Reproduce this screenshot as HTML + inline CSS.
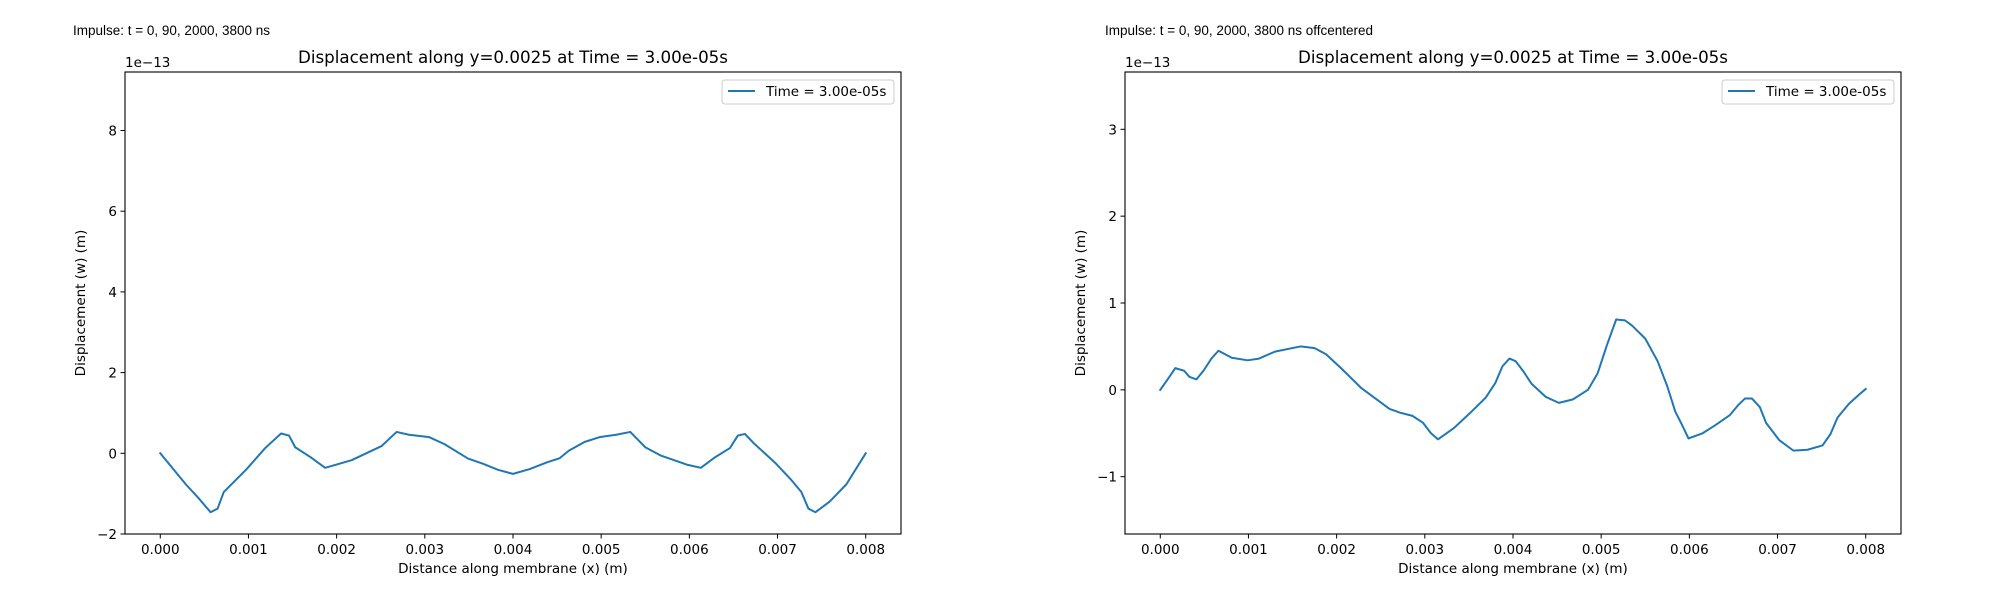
<!DOCTYPE html>
<html><head><meta charset="utf-8"><style>
html,body{margin:0;padding:0;background:#fff;width:2000px;height:600px;overflow:hidden}
svg{display:block}
text{font-family:"DejaVu Sans","Liberation Sans",sans-serif;fill:#000}
</style></head><body>
<svg id="fig" width="2000" height="600" xmlns="http://www.w3.org/2000/svg"></svg>
<script>
const xTicks = [0,0.001,0.002,0.003,0.004,0.005,0.006,0.007,0.008];
const xTickLabels = ["0.000","0.001","0.002","0.003","0.004","0.005","0.006","0.007","0.008"];
const leftX = [0,.00029,.00043,.00057,.00065,.00072,.00098,.00119,.00137,.00146,.00153,.0017,.00187,.00217,.00251,.00268,.00282,.00305,.00322,.00349,.00365,.00383,.004,.00419,.00439,.00453,.00463,.00481,.00498,.00517,.00533,.0055,.00568,.00597,.00613,.00629,.00646,.00655,.00663,.00673,.00698,.00716,.00727,.00735,.00743,.00759,.00778,.008];
const leftY = [0,-0.77,-1.10,-1.46,-1.37,-0.96,-0.39,0.13,0.49,0.44,0.15,-0.09,-0.36,-0.17,0.18,0.53,0.46,0.40,0.23,-0.13,-0.25,-0.41,-0.51,-0.39,-0.22,-0.12,0.06,0.28,0.40,0.46,0.53,0.15,-0.06,-0.28,-0.36,-0.10,0.13,0.44,0.48,0.25,-0.25,-0.67,-0.96,-1.37,-1.46,-1.20,-0.77,0];
const leftYTicks = [-2,0,2,4,6,8];
const rightX = [0,.00009,.00017,.00027,.00033,.00041,.00049,.00058,.00066,.00081,.00099,.00112,.0013,.00159,.00175,.00188,.00206,.00228,.0026,.00271,.00286,.00298,.00307,.00315,.00333,.00351,.00369,.0038,.00388,.00396,.00403,.00412,.00421,.00437,.00452,.00468,.00485,.00496,.00506,.00517,.00527,.00535,.0055,.00564,.00575,.00584,.00592,.00599,.00615,.00629,.00646,.00655,.00663,.00671,.0068,.00687,.00702,.00718,.00734,.00751,.0076,.00768,.00781,.00792,.008];
const rightY = [0,0.13,0.25,0.22,0.15,0.12,0.22,0.36,0.45,0.37,0.34,0.36,0.44,0.50,0.48,0.41,0.24,0.02,-0.22,-0.26,-0.30,-0.38,-0.50,-0.57,-0.44,-0.27,-0.09,0.08,0.27,0.36,0.33,0.21,0.07,-0.08,-0.15,-0.11,0.00,0.19,0.50,0.81,0.80,0.74,0.59,0.33,0.04,-0.25,-0.41,-0.56,-0.50,-0.41,-0.29,-0.18,-0.10,-0.10,-0.20,-0.38,-0.58,-0.70,-0.69,-0.64,-0.51,-0.32,-0.16,-0.06,0.01];
const rightYTicks = [-1,0,1,2,3];

const NS="http://www.w3.org/2000/svg";
const fig=document.getElementById('fig');
function mk(tag,attrs,parent,txt){const e=document.createElementNS(NS,tag);for(const k in attrs)e.setAttribute(k,attrs[k]);if(txt!==undefined)e.textContent=txt;(parent||fig).appendChild(e);return e;}

function panel(p){
  const g=mk('g',{});
  
  
  const L=p.ox+125,R=p.ox+901,T=72,B=534;
  const xmin=-0.0004,xmax=0.0084;
  const sx=v=>L+(v-xmin)/(xmax-xmin)*(R-L);
  const sy=v=>B-(v-p.ymin)/(p.ymax-p.ymin)*(B-T);
  const sup=mk('text',{x:p.supx,y:35,'font-size':13.5,style:'font-family:"Liberation Sans",sans-serif'},g,p.sup);
  
  
  const ti=mk('text',{x:(L+R)/2,y:63,'font-size':16.7,'text-anchor':'middle'},g,'Displacement along y=0.0025 at Time = 3.00e-05s');
  
  
  const off=mk('text',{x:L,y:67,'font-size':13.5},g,'1e\u221213');
  
  
  let d='';
  for(let i=0;i<p.xs.length;i++){d+=(i?'L':'M')+sx(p.xs[i]).toFixed(2)+','+sy(p.ys[i]).toFixed(2);}
  const ln=mk('path',{d:d,fill:'none',stroke:'#1f77b4','stroke-width':2,'stroke-linejoin':'round','stroke-linecap':'square'},g);
  
  
  const fr=mk('rect',{x:L,y:T,width:R-L,height:B-T,fill:'none',stroke:'#000','stroke-width':1.1},g);
  
  
  xTicks.forEach((v,i)=>{
    const x=sx(v);
    const t=mk('line',{x1:x,x2:x,y1:B,y2:B+4.5,stroke:'#000','stroke-width':1},g);
    
    
    const l=mk('text',{x:x,y:B+20,'font-size':13.5,'text-anchor':'middle'},g,xTickLabels[i]);
    
    
  });
  p.yt.forEach(v=>{
    const y=sy(v);
    const t=mk('line',{x1:L-4.5,x2:L,y1:y,y2:y,stroke:'#000','stroke-width':1},g);
    
    
    const l=mk('text',{x:L-8,y:y+5,'font-size':13.5,'text-anchor':'end'},g,v<0?'\u2212'+Math.abs(v):String(v));
    
    
  });
  const xl=mk('text',{x:(L+R)/2,y:573,'font-size':13.5,'text-anchor':'middle'},g,'Distance along membrane (x) (m)');
  
  
  const yl=mk('text',{x:0,y:0,'font-size':13.5,'text-anchor':'middle',transform:`translate(${p.ox+85},${(T+B)/2}) rotate(-90)`},g,'Displacement (w) (m)');
  
  
  const lg=mk('g',{},g);
  
  
  mk('rect',{x:p.ox+722,y:80,width:172,height:24,rx:3,fill:'#fff',stroke:'#ccc','stroke-width':1},lg);
  mk('line',{x1:p.ox+728,x2:p.ox+755,y1:91,y2:91,stroke:'#1f77b4','stroke-width':2},lg);
  const lt=mk('text',{x:p.ox+766,y:96,'font-size':13.5},lg,'Time = 3.00e-05s');
  
  
}
panel({name:'left-panel',ox:0,supx:73,ymin:-2,ymax:9.45,xs:leftX,ys:leftY,yt:leftYTicks,sup:'Impulse: t = 0, 90, 2000, 3800 ns'});
panel({name:'right-panel',ox:1000,supx:1105,ymin:-1.66,ymax:3.66,xs:rightX,ys:rightY,yt:rightYTicks,sup:'Impulse: t = 0, 90, 2000, 3800 ns offcentered'});
</script>
</body></html>
